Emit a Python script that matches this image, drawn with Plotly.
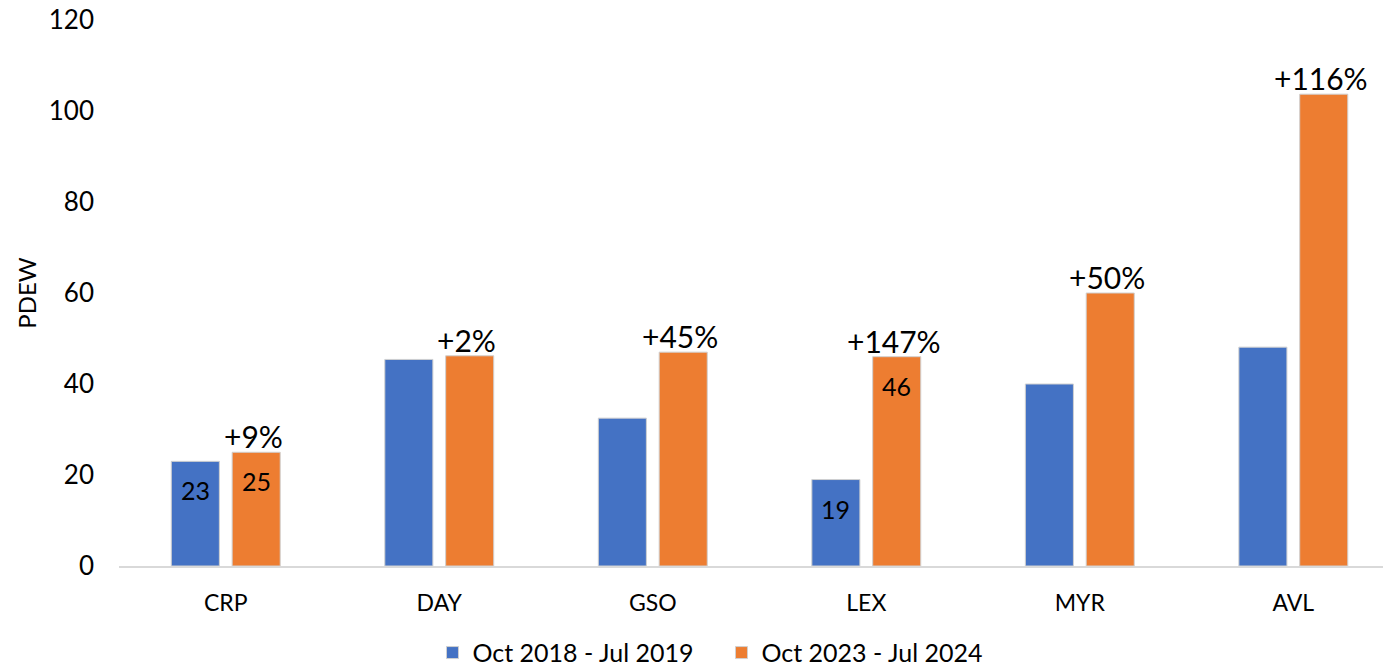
import plotly.graph_objects as go

categories = ["CRP", "DAY", "GSO", "LEX", "MYR", "AVL"]
series_names = ["Oct 2018 - Jul 2019", "Oct 2023 - Jul 2024"]
values_2019 = [23, 45.4, 32.5, 19, 40, 48.1]
values_2024 = [25, 46.2, 47, 46, 60, 103.7]
pct_labels = ["+9%", "+2%", "+45%", "+147%", "+50%", "+116%"]
inside_2019 = ["23", "", "", "19", "", ""]
inside_2024 = ["25", "", "", "46", "", ""]
y_ticks = [0, 20, 40, 60, 80, 100, 120]

BLUE = "#4472C4"
ORANGE = "#ED7D31"
FONT = "Lato"

BARGAP = 0.43
GROUPGAP = 0.21
slot = (1 - BARGAP) / 2

fig = go.Figure()
fig.add_trace(go.Bar(x=categories, y=values_2019, name=series_names[0],
                     marker=dict(color=BLUE, line=dict(color="#d0d0d0", width=1))))
fig.add_trace(go.Bar(x=categories, y=values_2024, name=series_names[1],
                     marker=dict(color=ORANGE, line=dict(color="#d0d0d0", width=1))))

annotations = []
for i, cat in enumerate(categories):
    annotations.append(dict(x=i + slot / 2, y=values_2024[i], xref="x", yref="y",
                            text=pct_labels[i], showarrow=False, yanchor="bottom",
                            font=dict(family=FONT, size=30, color="#000000"), yshift=-4,
                            xshift=-3))
    if inside_2019[i]:
        annotations.append(dict(x=i - slot / 2, y=values_2019[i], xref="x", yref="y",
                                text=inside_2019[i], showarrow=False, yanchor="middle",
                                yshift=-29, font=dict(family=FONT, size=25, color="#000000")))
    if inside_2024[i]:
        annotations.append(dict(x=i + slot / 2, y=values_2024[i], xref="x", yref="y",
                                text=inside_2024[i], showarrow=False, yanchor="middle",
                                yshift=-29, font=dict(family=FONT, size=25, color="#000000")))

fig.update_layout(
    width=1383, height=666,
    margin=dict(l=119, r=0, t=20, b=100, autoexpand=False),
    paper_bgcolor="white", plot_bgcolor="white",
    barmode="group", bargap=BARGAP, bargroupgap=GROUPGAP,
    font=dict(family=FONT, color="#000000"),
    showlegend=True,
    legend=dict(orientation="h", x=0.248, xanchor="left", y=-0.159, yanchor="middle",
                font=dict(family=FONT, size=25, color="#000000"), traceorder="normal",
                itemwidth=30, entrywidth=244),
    annotations=annotations,
    xaxis=dict(range=[-0.5, 5.42], showline=True, linecolor="#d9d9d9", linewidth=2,
               showgrid=False, ticks="", automargin=False,
               tickfont=dict(family=FONT, size=23, color="#000000"),
               ticklabelstandoff=15),
    yaxis=dict(range=[0, 120], tickvals=y_ticks, showgrid=False, zeroline=False,
               showline=False, ticks="", automargin=False, ticklabeloverflow="allow",
               tickfont=dict(family=FONT, size=26, color="#000000"),
               ticklabelstandoff=24,
               title=dict(text="PDEW", font=dict(family=FONT, size=24, color="#000000"),
                          standoff=5)),
)

# Remove the browser's default 8px body margin so the figure fills the window.
fig.write_html("out.html", config={"displayModeBar": False},
               post_script="document.body.style.margin='0';document.body.style.overflow='hidden';")
